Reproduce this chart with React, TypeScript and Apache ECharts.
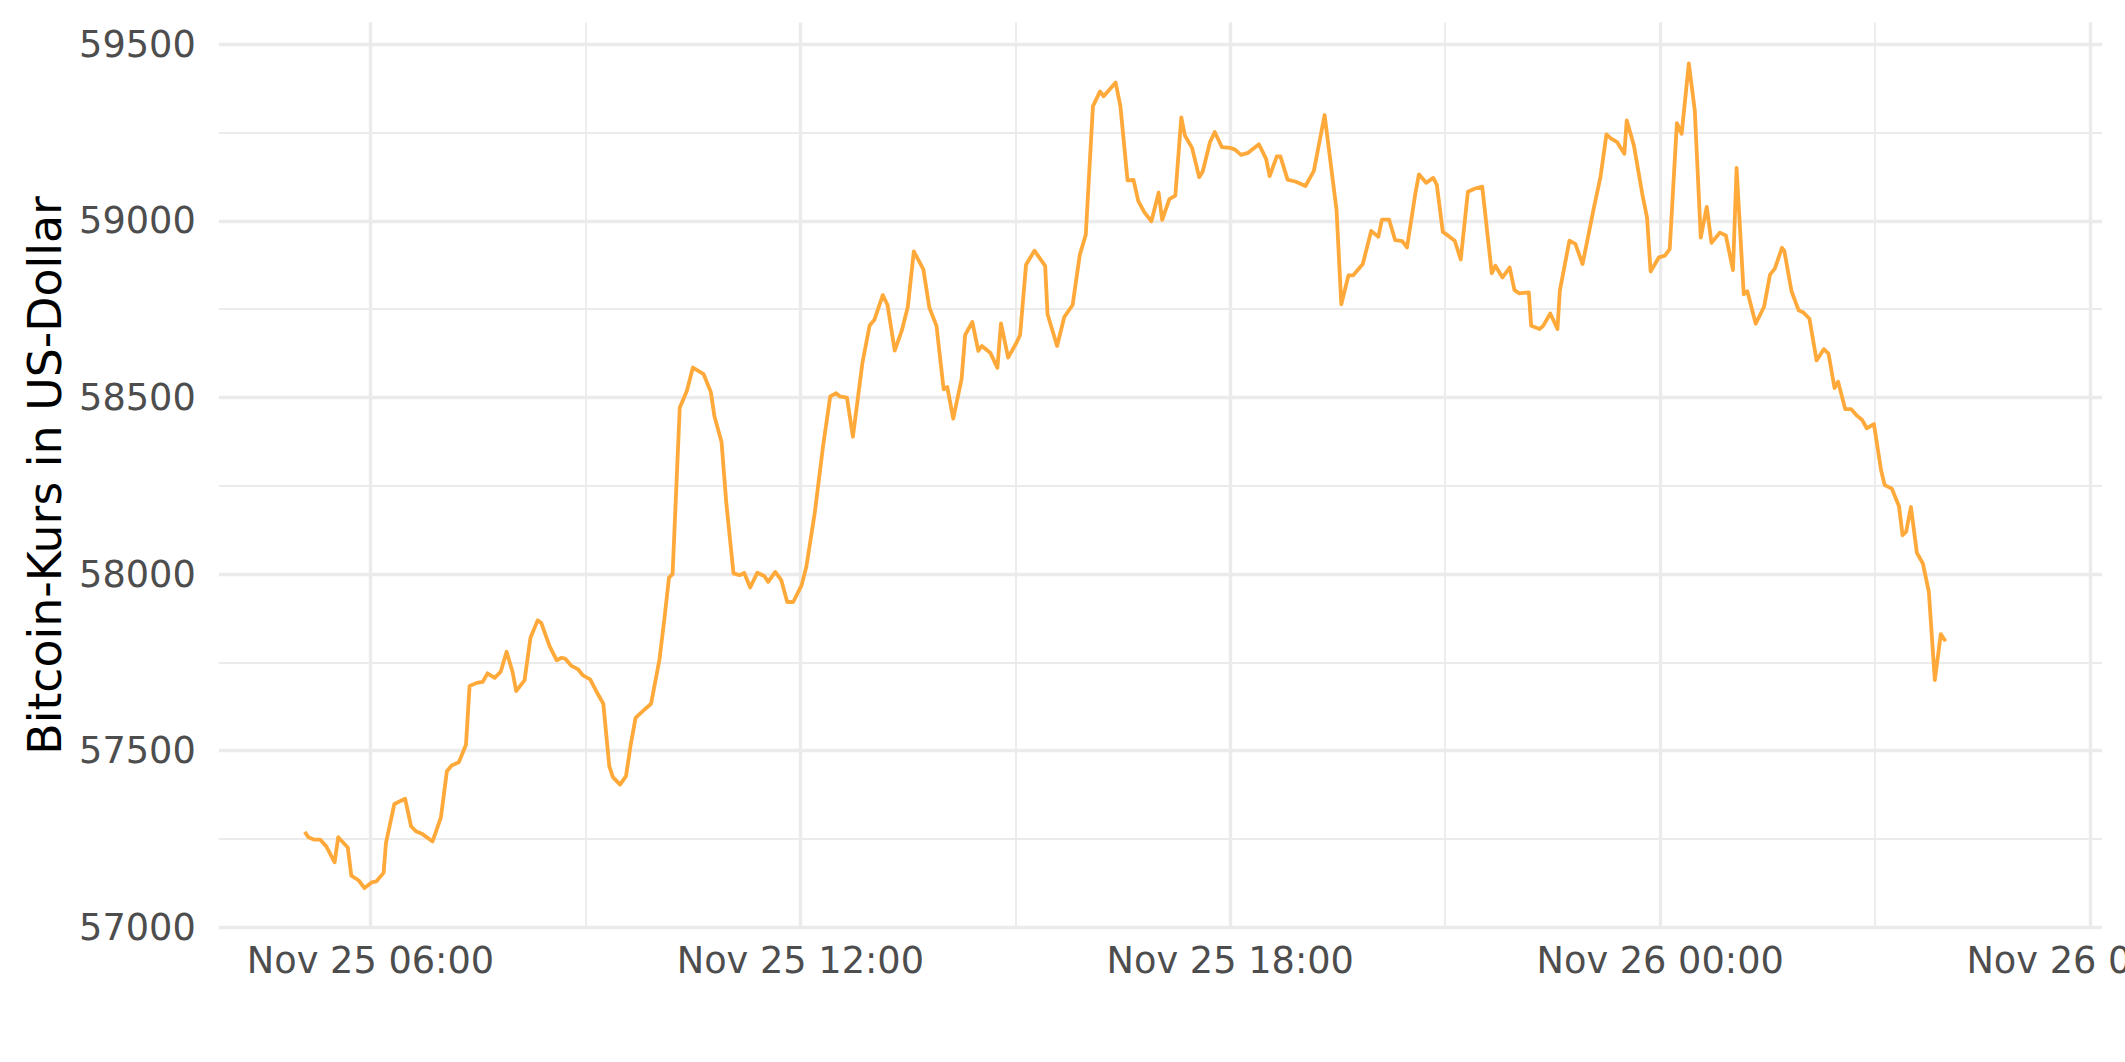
import React, { useEffect, useRef } from "react";
import * as echarts from "echarts";

// Nov 25 2021, 06:00 local time; offsets below are minutes from this moment
const BASE_TIME = new Date(2021, 10, 25, 6, 0, 0).getTime();
const MINUTE = 60 * 1000;

const offsetsMin = [
  -55, -52, -47, -42, -37, -30, -27, -19, -16, -10, -5, 1, 5, 11, 13, 20, 29, 34, 38, 43, 52, 59, 64, 68, 74, 80,
  83, 89, 94, 98, 104, 109, 114, 119, 122, 129, 134, 140, 143, 150, 156, 160, 163, 168, 174, 178, 184, 189, 195,
  200, 203, 209, 214, 218, 222, 228, 235, 242, 246, 250, 253,
  259, 265, 270, 279, 285, 288, 294, 298, 304, 309, 313, 318, 324, 330, 333, 339, 344, 349, 354, 361, 365, 372,
  379, 385, 390, 393, 399, 404, 412, 418, 422,
  429, 433, 439, 445, 450, 455, 463, 468, 474, 480, 483, 488, 495, 498, 504, 509, 512, 519, 525, 528, 534, 541,
  544, 549, 556, 565, 567, 575, 581, 588, 594, 599,
  605, 611, 614, 624, 628, 634, 639, 643, 648, 654, 660, 663, 669, 674, 679, 682, 688, 694, 697, 703, 707, 713,
  720, 724, 729, 735, 744, 750, 753, 759, 762, 768,
  775, 783, 790, 799, 809, 813, 819, 823, 831, 838, 844, 847, 853, 858, 864, 868, 875, 878, 884, 890, 893, 898,
  903, 908, 913, 919, 925, 931, 939, 942,
  948, 954, 958, 962, 970, 972, 979, 982, 988, 994, 996, 1004, 1009, 1015, 1020, 1024, 1030, 1035, 1039, 1044,
  1050, 1052, 1058, 1065, 1069, 1072, 1079, 1084, 1088, 1094, 1098, 1104, 1109,
  1114, 1119, 1123, 1130, 1135, 1141, 1144, 1150, 1153, 1160, 1167, 1172, 1176, 1182, 1184, 1190, 1196, 1200,
  1205, 1211, 1217, 1221, 1226, 1229, 1235, 1240, 1245, 1249, 1253, 1259, 1265, 1268, 1274, 1280, 1283, 1286,
  1290, 1295, 1300, 1305, 1310, 1315, 1319,
];

const pricesUsd = [
  57270, 57255, 57248, 57248, 57229, 57184, 57255, 57226, 57146, 57133, 57111, 57127, 57130, 57154, 57239, 57349,
  57364, 57286, 57272, 57265, 57243, 57311, 57442, 57458, 57467, 57517,
  57683, 57692, 57695, 57719, 57706, 57723, 57780, 57723, 57669, 57699, 57820, 57869, 57862, 57796, 57756, 57763,
  57761, 57741, 57730, 57713, 57702, 57669, 57633,
  57456, 57425, 57404, 57428, 57518, 57593, 57612, 57633, 57758, 57869, 57990, 58000,
  58471, 58519, 58585, 58566, 58516, 58448, 58374, 58201, 58002, 57997, 58003, 57962, 58004, 57994, 57978, 58006,
  57983, 57921, 57921, 57968, 58021, 58172,
  58362, 58503, 58512, 58503, 58500, 58389, 58599, 58704, 58720,
  58790, 58762, 58633, 58690, 58757, 58914, 58863, 58755, 58703, 58523, 58530, 58440, 58552, 58677, 58714, 58632,
  58646, 58627, 58584, 58710, 58613, 58655,
  58677, 58876, 58916, 58873, 58736, 58646, 58728, 58762, 58904, 58961,
  59325, 59367, 59353, 59392, 59325, 59115, 59116, 59056, 59025, 58999, 59080, 59003, 59062, 59072, 59293, 59242,
  59207, 59124, 59141, 59223, 59252, 59209,
  59207, 59202, 59187, 59193, 59217, 59176, 59127, 59183, 59183, 59117,
  59111, 59099, 59142, 59300, 59031, 58764, 58846, 58846, 58878, 58972, 58955, 59004, 59004, 58946, 58943, 58925,
  59078, 59132, 59108, 59122, 59102, 58969,
  58957, 58944, 58891, 59083, 59092, 59097, 58852, 58873,
  58840, 58868, 58804, 58795, 58798, 58703, 58694, 58703, 58738, 58694, 58803, 58944, 58935, 58878, 58961, 59029,
  59124, 59245, 59233, 59223,
  59190, 59285, 59214, 59077, 59010, 58857, 58897, 58902, 58920, 59277, 59247, 59446, 59313,
  58953, 59040, 58938, 58967, 58959, 58861, 59150, 58792, 58801, 58709, 58757, 58848, 58865, 58924, 58915, 58801,
  58747, 58741,
  58723, 58605, 58637, 58624, 58527, 58545, 58467, 58467, 58448, 58437, 58413, 58425, 58294, 58252, 58242, 58192,
  58110, 58120,
  58190, 58060, 58030, 57950, 57700, 57830, 57810,
];

const yMajorTicks = [57000, 57500, 58000, 58500, 59000, 59500];
const yMinorTicks = [57250, 57750, 58250, 58750, 59250];
const xMajorHours = [0, 6, 12, 18, 24];
const xMinorHours = [3, 9, 15, 21];

const Y_AXIS_TITLE = "Bitcoin-Kurs in US-Dollar";
const MONTHS = ["Jan", "Feb", "Mar", "Apr", "May", "Jun", "Jul", "Aug", "Sep", "Oct", "Nov", "Dec"];

const pad = (n: number) => (n < 10 ? "0" + n : "" + n);
const fmtTime = (v: number) => {
  const d = new Date(v);
  return `${MONTHS[d.getMonth()]} ${d.getDate()} ${pad(d.getHours())}:${pad(d.getMinutes())}`;
};

export default function App() {
  const ref = useRef<HTMLDivElement>(null);

  useEffect(() => {
    if (!ref.current) return;
    const chart = echarts.init(ref.current, null, { renderer: "svg" });

    const data = offsetsMin.map((m, i) => [BASE_TIME + m * MINUTE, pricesUsd[i]]);
    const xMin = BASE_TIME - 127 * MINUTE;
    const xMax = BASE_TIME + (24 * 60 + 10) * MINUTE;
    const xMajor = xMajorHours.map((h) => BASE_TIME + h * 60 * MINUTE);
    const xMinor = xMinorHours.map((h) => BASE_TIME + h * 60 * MINUTE);
    const yMin = 56997;
    const yMax = 59562;

    const font = "DejaVu Sans";
    const grid = "#EBEBEB";

    chart.setOption({
      animation: false,
      backgroundColor: "#FFFFFF",
      grid: {
        left: 218.8,
        right: 23,
        top: 22.5,
        bottom: 133.7,
        containLabel: false,
        outerBoundsMode: "none",
      },
      xAxis: [
        {
          type: "value",
          min: xMin,
          max: xMax,
          scale: true,
          axisLine: { show: false },
          axisTick: { show: false, customValues: xMajor },
          axisLabel: {
            customValues: xMajor,
            formatter: (v: number) => fmtTime(v),
            color: "#4D4D4D",
            fontSize: 36.7,
            fontFamily: font,
            margin: 14,
            showMinLabel: true,
            showMaxLabel: true,
            hideOverlap: false,
          },
          splitLine: { show: true, lineStyle: { color: grid, width: 3.4 } },
        },
        {
          type: "value",
          min: xMin,
          max: xMax,
          scale: true,
          position: "top",
          axisLine: { show: false },
          axisTick: { show: false, customValues: xMinor },
          axisLabel: { show: false, customValues: xMinor },
          splitLine: { show: true, lineStyle: { color: grid, width: 1.8 } },
        },
      ],
      yAxis: [
        {
          type: "value",
          min: yMin,
          max: yMax,
          scale: true,
          name: Y_AXIS_TITLE,
          nameLocation: "middle",
          nameGap: 150,
          nameTextStyle: { fontSize: 45.8, color: "#000000", fontFamily: font },
          axisLine: { show: false },
          axisTick: { show: false, customValues: yMajorTicks },
          axisLabel: {
            customValues: yMajorTicks,
            color: "#4D4D4D",
            fontSize: 36.7,
            fontFamily: font,
            margin: 23,
            formatter: (v: number) => String(v),
          },
          splitLine: { show: true, lineStyle: { color: grid, width: 3.4 } },
        },
        {
          type: "value",
          min: yMin,
          max: yMax,
          scale: true,
          position: "right",
          axisLine: { show: false },
          axisTick: { show: false, customValues: yMinorTicks },
          axisLabel: { show: false, customValues: yMinorTicks },
          splitLine: { show: true, lineStyle: { color: grid, width: 1.8 } },
        },
      ],
      series: [
        {
          type: "line",
          xAxisIndex: 0,
          yAxisIndex: 0,
          data,
          symbol: "none",
          showSymbol: false,
          z: 5,
          lineStyle: { color: "#FFA93A", width: 3.8, join: "round" },
          itemStyle: { color: "#FFA93A" },
        },
      ],
    });

    return () => chart.dispose();
  }, []);

  return (
    <div
      ref={ref}
      style={{ position: "fixed", left: 0, top: 0, width: "2125px", height: "1062px", background: "#fff" }}
    />
  );
}
